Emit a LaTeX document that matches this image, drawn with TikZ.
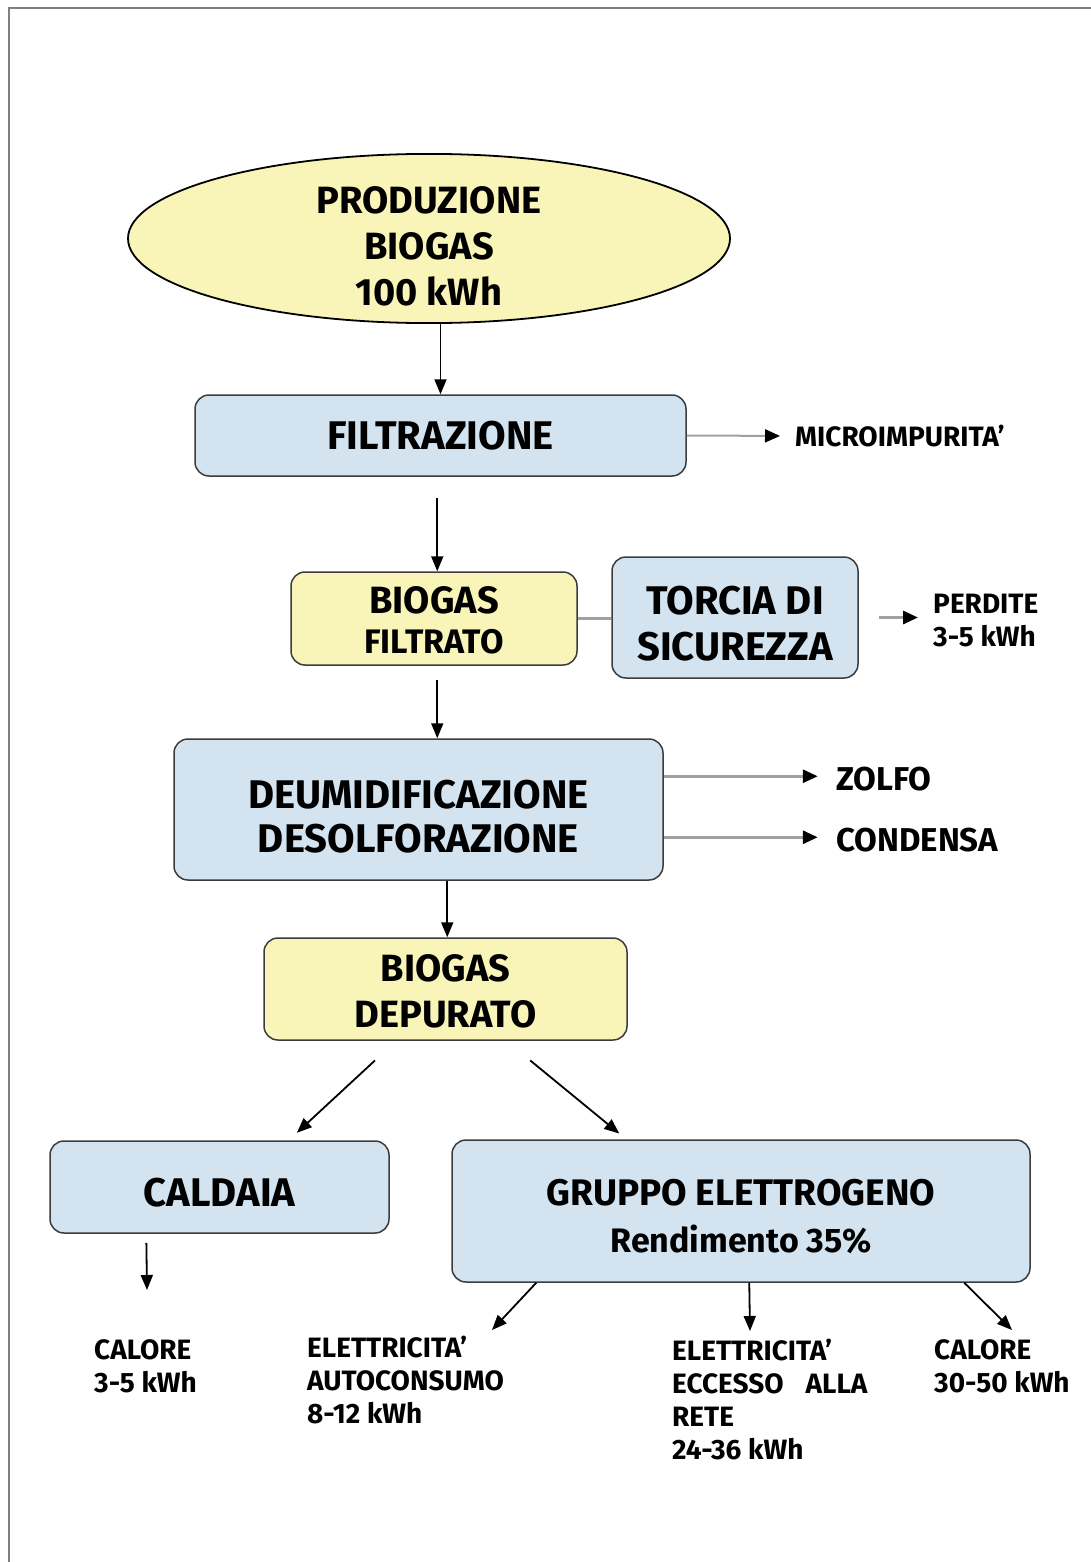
\documentclass[tikz,border=0pt]{standalone}
\usepackage{fontspec}
\setmainfont{Fira Sans}
\usetikzlibrary{shapes.geometric,arrows.meta,calc}
\definecolor{yel}{RGB}{249,245,184}
\definecolor{blu}{RGB}{211,228,240}
\definecolor{boxline}{RGB}{60,60,60}
\definecolor{sidegray}{RGB}{160,160,160}
\definecolor{framegray}{RGB}{128,128,128}
\newcommand{\lowtxt}[2]{\raisebox{-#1}[\height][\depth]{#2}}
\begin{document}
\begin{tikzpicture}[x=1pt,y=-1pt,
  fnt/.style 2 args={font=\fontsize{#1}{#2}\selectfont\bfseries,align=center},
  lbl/.style={font=\fontsize{28}{33}\selectfont\bfseries,align=left,anchor=west,inner sep=0pt},
  lblbig/.style={font=\fontsize{33}{36}\selectfont\bfseries,align=left,anchor=west,inner sep=0pt},
  ybox/.style={draw=boxline,fill=yel,line width=1.5pt,rounded corners=14pt,inner sep=0pt},
  bbox/.style={draw=boxline,fill=blu,line width=1.5pt,rounded corners=14pt,inner sep=0pt},
  ell/.style={ellipse,draw=black,fill=yel,line width=1.8pt,inner sep=0pt,minimum width=602pt,minimum height=167pt},
  arr/.style={draw=black,line width=1.8pt,-{Triangle[length=15pt,width=12pt]}},
  side/.style={draw=sidegray,line width=3pt,-{Triangle[length=15pt,width=13pt,color=black]}},
  sideplain/.style={draw=sidegray,line width=3pt}
]
\useasboundingbox (0,0) rectangle (1091,1562);
\draw[framegray,line width=2pt] (9,1562) -- (9,8) -- (1091,8);

% main nodes
\node[ell,fnt={38}{46}] (prod) at (429,238.5)
  {\lowtxt{8pt}{PRODUZIONE}\\\lowtxt{8pt}{BIOGAS}\\\lowtxt{8pt}{100 kWh}};
\node[bbox,fnt={40}{46},minimum width=491pt,minimum height=81pt] (filt) at (440.5,435.5) {FILTRAZIONE};
\node[ybox,fnt={34}{40},minimum width=286pt,minimum height=93pt] (bf) at (434,618.5)
  {\lowtxt{2pt}{\fontsize{38}{40}\selectfont BIOGAS}\\\lowtxt{2pt}{FILTRATO}};
\node[bbox,fnt={40}{46},minimum width=246pt,minimum height=121pt] (torcia) at (735,617.5)
  {\lowtxt{6pt}{TORCIA DI}\\\lowtxt{6pt}{SICUREZZA}};
\node[bbox,fnt={40}{44},minimum width=489pt,minimum height=141pt] (deum) at (418.5,809.5)
  {\lowtxt{7pt}{DEUMIDIFICAZIONE}\\\lowtxt{7pt}{DESOLFORAZIONE}};
\node[ybox,fnt={38}{46},minimum width=363pt,minimum height=102pt] (dep) at (445.5,989)
  {\lowtxt{2pt}{BIOGAS}\\\lowtxt{2pt}{DEPURATO}};
\node[bbox,fnt={40}{46},minimum width=339pt,minimum height=92pt] (cal) at (219.5,1187)
  {\lowtxt{6pt}{CALDAIA}};
\node[bbox,fnt={37}{47},minimum width=578pt,minimum height=142pt] (gr) at (741,1211)
  {\lowtxt{6pt}{GRUPPO ELETTROGENO}\\\lowtxt{6pt}{\fontsize{34}{47}\selectfont Rendimento 35\%}};

% side labels
\node[lbl] (micro) at (795,436) {MICROIMPURITA'};
\node[lbl] (perd) at (933,620.5) {PERDITE\\3-5 kWh};
\node[lblbig] (zolfo) at (836,779) {ZOLFO};
\node[lblbig] (cond) at (836,840) {CONDENSA};

% bottom labels
\node[lbl] (calL) at (94,1366) {CALORE\\3-5 kWh};
\node[lbl] (el1) at (307,1380) {ELETTRICITA'\\AUTOCONSUMO\\8-12 kWh};
\node[lbl] (el2) at (672,1399) {ELETTRICITA'\\ECCESSO\hspace{22pt}ALLA\\RETE\\24-36 kWh};
\node[lbl] (cal2) at (934,1366) {CALORE\\30-50 kWh};

% free ends
\coordinate (calE) at (147,1290);
\coordinate (el1E) at (492,1330);
\coordinate (el2E) at (750,1331);
\coordinate (cal2E) at (1012,1330);

% main flow arrows
\draw[arr] (prod.south -| filt.north) -- (filt.north);
\draw[arr,shorten <=21pt] ($(filt.south west)+(243,0)$) -- ($(bf.north west)+(147,0)$);
\draw[arr,shorten <=14pt] ($(bf.south west)+(147,0)$) -- ($(deum.north west)+(264,0)$);
\draw[arr] ($(deum.south west)+(274,0)$) -- ($(dep.north west)+(184,0)$);
\draw[arr,shorten <=29pt,shorten >=11pt] ($(dep.south west)+(133,0)$) -- ($(cal.north west)+(239.5,0)$);
\draw[arr,shorten <=31pt,shorten >=9pt] ($(dep.south west)+(243,0)$) -- ($(gr.north west)+(175,0)$);
\draw[arr,shorten <=9pt] ($(cal.south west)+(97,0)$) -- (calE);
\draw[arr] ($(gr.south west)+(85,0)$) -- (el1E);
\draw[arr] ($(gr.south west)+(298,0)$) -- (el2E);
\draw[arr] ($(gr.south west)+(513,0)$) -- (cal2E);

% side arrows
\draw[side,line width=2pt,shorten >=15pt] (filt.east) -- (micro.west);
\draw[sideplain] (bf.east) -- (bf.east -| torcia.west);
\draw[side,shorten <=20pt,shorten >=15pt] (torcia.east) -- (torcia.east -| perd.west);
\draw[side,shorten >=19pt] ($(deum.north east)+(0,38)$) -- ($(deum.north east)+(173,38)$);
\draw[side,shorten >=19pt] ($(deum.north east)+(0,99)$) -- ($(deum.north east)+(173,99)$);
\end{tikzpicture}
\end{document}
